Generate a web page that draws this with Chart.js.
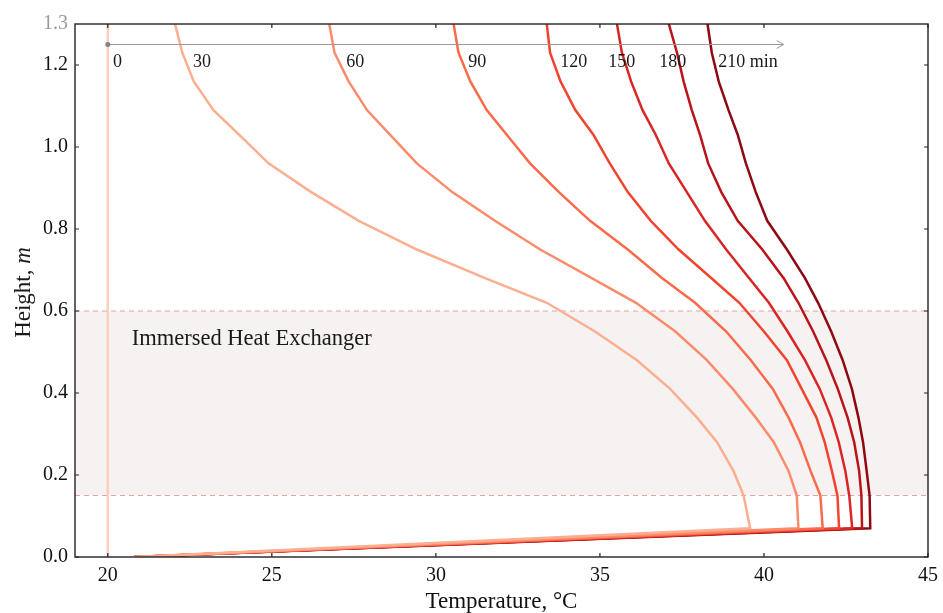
<!DOCTYPE html>
<html>
<head>
<meta charset="utf-8">
<script src="https://cdn.jsdelivr.net/npm/chart.js@4/dist/chart.umd.min.js"></script>
<style>
html, body { margin: 0; padding: 0; background: #fff; }
</style>
</head>
<body>
<canvas id="tankChart" width="943" height="613"></canvas>
<script>
// heights of the nodes (m) and temperature profiles (°C) for each time step
const heights = [0, 0.07, 0.15, 0.21, 0.28, 0.34, 0.41, 0.48, 0.55, 0.62, 0.68, 0.75, 0.82, 0.89, 0.96, 1.03, 1.09, 1.16, 1.23, 1.30];
const heights0 = [0, 1.3];
const temp0   = [20, 20];
const temp30  = [20.8, 39.58, 39.38, 39.07, 38.57, 37.96, 37.14, 36.13, 34.85, 33.38, 31.5, 29.42, 27.65, 26.2, 24.9, 24.0, 23.22, 22.62, 22.27, 22.05];
const temp60  = [20.8, 41.05, 41.0, 40.75, 40.3, 39.75, 39.05, 38.26, 37.3, 36.1, 34.75, 33.18, 31.8, 30.5, 29.42, 28.6, 27.9, 27.34, 26.91, 26.75];
const temp90  = [20.8, 41.79, 41.72, 41.42, 41.1, 40.75, 40.27, 39.6, 38.85, 37.9, 36.9, 35.85, 34.7, 33.75, 32.87, 32.16, 31.55, 31.05, 30.69, 30.54];
const temp120 = [20.8, 42.29, 42.24, 42.07, 41.85, 41.6, 41.15, 40.7, 40.0, 39.25, 38.4, 37.4, 36.55, 35.85, 35.3, 34.8, 34.25, 33.8, 33.48, 33.38];
const temp150 = [20.8, 42.69, 42.6, 42.48, 42.28, 42.05, 41.7, 41.25, 40.72, 40.15, 39.55, 38.85, 38.2, 37.65, 37.1, 36.7, 36.3, 35.95, 35.67, 35.52];
const temp180 = [20.8, 42.99, 42.97, 42.9, 42.75, 42.55, 42.25, 41.9, 41.5, 41.05, 40.6, 39.95, 39.2, 38.7, 38.3, 38.05, 37.8, 37.55, 37.35, 37.1];
const temp210 = [20.8, 43.24, 43.22, 43.13, 43.02, 42.88, 42.68, 42.4, 42.05, 41.65, 41.25, 40.7, 40.1, 39.75, 39.45, 39.2, 38.92, 38.62, 38.41, 38.28];

const timeLabels = ['0', '30', '60', '90', '120', '150', '180', '210 min'];
const timeLabelX = [20.16, 22.6, 27.27, 30.99, 33.79, 35.25, 36.81, 38.61];
const arrowStart = 20, arrowEnd = 40.6, arrowHeight = 1.25;

const xTicks = [20, 25, 30, 35, 40, 45];
const yTicks = [0, 0.2, 0.4, 0.6, 0.8, 1.0, 1.2, 1.3];

const hxBottom = 0.15, hxTop = 0.6;
const hxLabel = 'Immersed Heat Exchanger';

const colors = ['#fdcfbf', '#fcae91', '#fc8b6c', '#fb6a4a', '#f1442f', '#d92624', '#b81419', '#8e0912'];
const FONT = '"Liberation Serif", "Times New Roman", serif';

function profile(hs, ts) {
    return hs.map((h, i) => ({x: ts[i], y: h}));
}

const profiles = [
    profile(heights0, temp0),
    profile(heights, temp30),
    profile(heights, temp60),
    profile(heights, temp90),
    profile(heights, temp120),
    profile(heights, temp150),
    profile(heights, temp180),
    profile(heights, temp210)
];

const datasets = profiles.map((d, i) => ({
    label: timeLabels[i],
    data: d,
    showLine: true,
    borderColor: colors[i],
    backgroundColor: colors[i],
    borderWidth: 2.5,
    borderJoinStyle: 'miter',
    pointRadius: 0,
    tension: 0,
    fill: false
}));

const decorations = {
    id: 'decorations',
    beforeDatasetsDraw(chart) {
        const {ctx, chartArea: a, scales: {x, y}} = chart;
        const top = y.getPixelForValue(hxTop), bot = y.getPixelForValue(hxBottom);
        ctx.save();
        ctx.fillStyle = '#f7f2f2';
        ctx.fillRect(a.left, top, a.right - a.left, bot - top);
        ctx.strokeStyle = '#e4a2a2';
        ctx.lineWidth = 1;
        ctx.setLineDash([5, 4]);
        [top, bot].forEach(p => {
            ctx.beginPath();
            ctx.moveTo(a.left, p);
            ctx.lineTo(a.right, p);
            ctx.stroke();
        });
        ctx.setLineDash([]);
        ctx.fillStyle = '#1a1a1a';
        ctx.font = '22.5px ' + FONT;
        ctx.textBaseline = 'alphabetic';
        ctx.fillText(hxLabel, x.getPixelForValue(20.73), y.getPixelForValue(0.517));
        ctx.restore();
    },
    afterDatasetsDraw(chart) {
        const {ctx, chartArea: a, scales: {x, y}} = chart;
        ctx.save();
        // time arrow
        const ay = y.getPixelForValue(arrowHeight);
        const x0 = x.getPixelForValue(arrowStart), x1 = x.getPixelForValue(arrowEnd);
        ctx.strokeStyle = '#9a9a9a';
        ctx.lineWidth = 1;
        ctx.beginPath();
        ctx.moveTo(x0, ay);
        ctx.lineTo(x1, ay);
        ctx.moveTo(x1 - 7, ay - 4);
        ctx.lineTo(x1, ay);
        ctx.lineTo(x1 - 7, ay + 4);
        ctx.stroke();
        ctx.fillStyle = '#8a8080';
        ctx.beginPath();
        ctx.arc(x0, ay, 2.5, 0, Math.PI * 2);
        ctx.fill();
        ctx.font = '18px ' + FONT;
        ctx.textBaseline = 'middle';
        ctx.textAlign = 'left';
        ctx.fillStyle = '#1a1a1a';
        timeLabels.forEach((t, i) => {
            ctx.fillText(t, x.getPixelForValue(timeLabelX[i]), ay + 18);
        });

        // frame and inward ticks
        ctx.strokeStyle = '#222';
        ctx.lineWidth = 1.4;
        ctx.strokeRect(a.left, a.top, a.right - a.left, a.bottom - a.top);
        ctx.lineWidth = 1.2;
        ctx.beginPath();
        xTicks.forEach(v => {
            const p = x.getPixelForValue(v);
            ctx.moveTo(p, a.bottom); ctx.lineTo(p, a.bottom - 4);
            ctx.moveTo(p, a.top); ctx.lineTo(p, a.top + 4);
        });
        yTicks.slice(0, -1).forEach(v => {
            const p = y.getPixelForValue(v);
            ctx.moveTo(a.left, p); ctx.lineTo(a.left + 4, p);
            ctx.moveTo(a.right, p); ctx.lineTo(a.right - 4, p);
        });
        ctx.stroke();

        // y axis title with italic unit
        ctx.translate(24, (a.top + a.bottom) / 2 + 2);
        ctx.rotate(-Math.PI / 2);
        ctx.fillStyle = '#1a1a1a';
        ctx.textBaseline = 'middle';
        ctx.font = '23px ' + FONT;
        const w1 = ctx.measureText('Height, ').width;
        ctx.font = 'italic 23px ' + FONT;
        const w2 = ctx.measureText('m').width;
        ctx.textAlign = 'left';
        ctx.font = '23px ' + FONT;
        ctx.fillText('Height, ', -(w1 + w2) / 2, 0);
        ctx.font = 'italic 23px ' + FONT;
        ctx.fillText('m', -(w1 + w2) / 2 + w1, 0);
        ctx.restore();
    }
};

new Chart(document.getElementById('tankChart'), {
    type: 'scatter',
    data: {datasets: datasets},
    options: {
        responsive: false,
        devicePixelRatio: 1,
        animation: false,
        layout: {padding: {left: 0, right: 15, top: 24, bottom: 0}},
        plugins: {legend: {display: false}, tooltip: {enabled: false}},
        scales: {
            x: {
                type: 'linear',
                min: 19,
                max: 45,
                afterBuildTicks: s => { s.ticks = xTicks.map(v => ({value: v})); },
                afterFit: s => { s.height = 56; s.paddingLeft = 0; s.paddingRight = 0; },
                grid: {display: false, drawTicks: false},
                border: {display: false},
                ticks: {color: '#111', font: {family: FONT, size: 20}, padding: 7},
                title: {display: true, text: 'Temperature, °C', color: '#111',
                        font: {family: FONT, size: 23}, padding: {top: 0, bottom: -3}}
            },
            y: {
                type: 'linear',
                min: 0,
                max: 1.3,
                afterBuildTicks: s => { s.ticks = yTicks.map(v => ({value: v})); },
                afterFit: s => { s.width = 75; s.paddingTop = 0; s.paddingBottom = 0; },
                grid: {display: false, drawTicks: false},
                border: {display: false},
                ticks: {
                    color: c => (c.tick && c.tick.value === 1.3) ? '#9a9a9a' : '#111',
                    font: {family: FONT, size: 20},
                    padding: 7,
                    callback: v => Number(v).toFixed(1)
                }
            }
        }
    },
    plugins: [decorations]
});
</script>
</body>
</html>
